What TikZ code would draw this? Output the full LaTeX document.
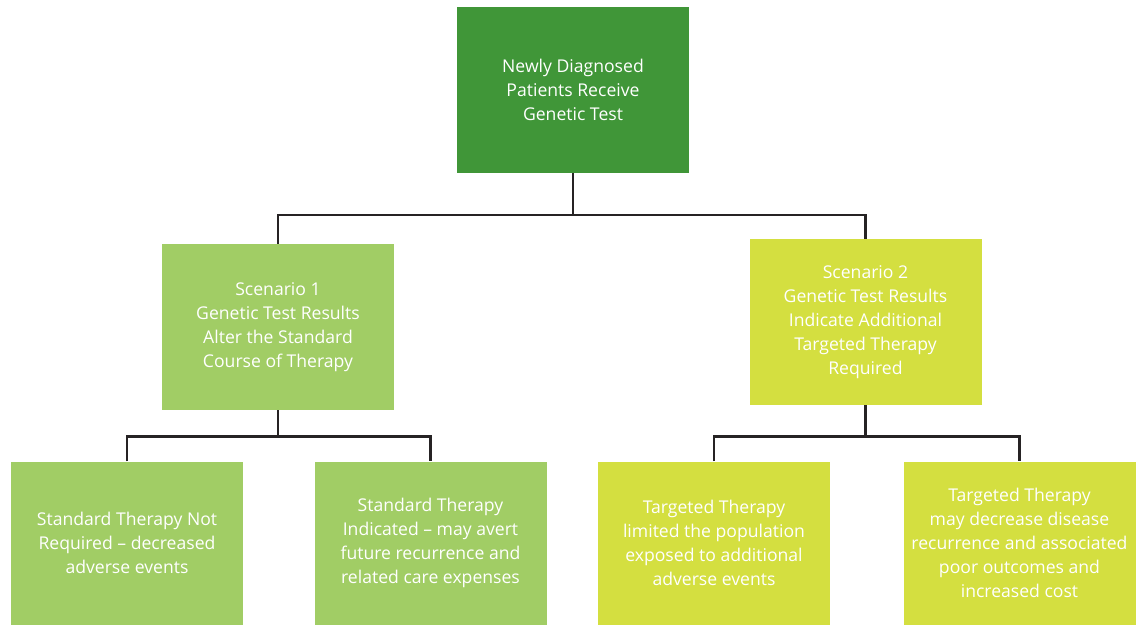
\documentclass[tikz,border=0pt]{standalone}
\usepackage{fontspec}
\setmainfont{Open Sans}
\definecolor{darkg}{HTML}{409638}
\definecolor{lightg}{HTML}{A1CD65}
\definecolor{yellowg}{HTML}{D4DF40}
\definecolor{linegray}{HTML}{262324}
\begin{document}
\begin{tikzpicture}[x=1pt,y=-1pt,
  box/.style={rectangle, inner sep=0pt, minimum width=232pt, minimum height=#1,
    text=white, align=center, font=\fontsize{17.6}{24}\selectfont},
  conn/.style={draw=linegray, line width=2.6pt, line join=miter}]
\useasboundingbox (0,0) rectangle (1142,625);
\node[box=165.5pt, fill=darkg] (top) at (573,89.75) {Newly Diagnosed\\Patients Receive\\Genetic Test};
\node[box=166pt, fill=lightg] (s1) at (278,327) {Scenario 1\\Genetic Test Results\\Alter the Standard\\Course of Therapy};
\node[box=166pt, fill=yellowg] (s2) at (865.5,322) {Scenario 2\\Genetic Test Results\\Indicate Additional\\Targeted Therapy\\Required};
\node[box=163pt, fill=lightg] (b1) at (127,543) {Standard Therapy Not\\Required -- decreased\\adverse events};
\node[box=163pt, fill=lightg] (b2) at (430.5,543) {Standard Therapy\\Indicated -- may avert\\future recurrence and\\related care expenses};
\node[box=163pt, fill=yellowg] (b3) at (714,543) {Targeted Therapy\\limited the population\\exposed to additional\\adverse events};
\node[box=163pt, fill=yellowg] (b4) at (1019.5,543) {Targeted Therapy\\may decrease disease\\recurrence and associated\\poor outcomes and\\increased cost};
\coordinate (hub1) at (573,215);
\coordinate (hub2) at (278,436.5);
\coordinate (hub3) at (865.5,436.5);
\draw[conn] (top.south) -- (hub1);
\draw[conn] (s1.north) |- (hub1) -| (s2.north);
\draw[conn] (s1.south) -- (hub2);
\draw[conn] (b1.north) |- (hub2) -| (b2.north);
\draw[conn] (s2.south) -- (hub3);
\draw[conn] (b3.north) |- (hub3) -| (b4.north);
\end{tikzpicture}
\end{document}
